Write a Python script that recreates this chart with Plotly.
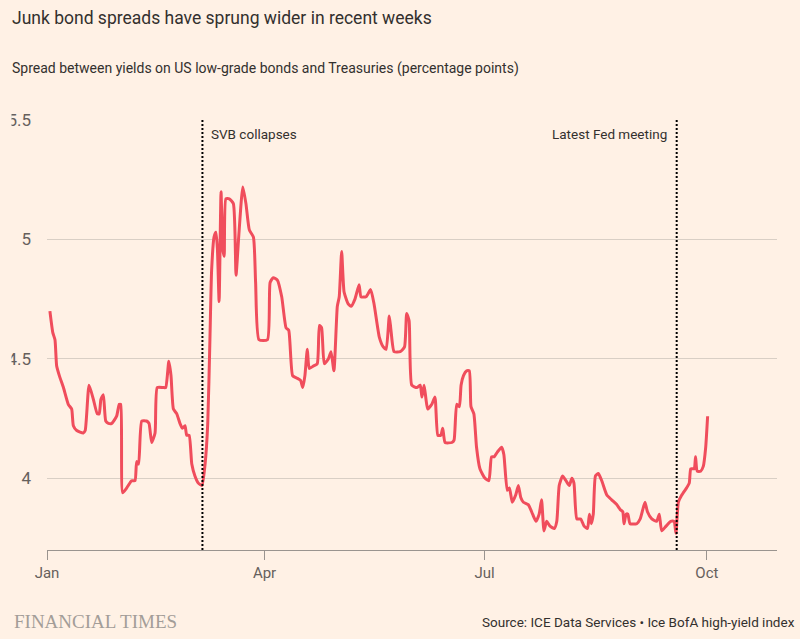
import pandas as pd
import plotly.graph_objects as go

# ---- data ----
days_since_jan1 = [
    1.2, 2.4, 3.3, 4.0, 5.1, 6.8, 8.8, 10.2, 10.9, 12.3, 15.0, 15.8, 17.4, 19.2, 20.8, 21.6,
    22.3, 23.3, 24.3, 25.4, 26.8, 28.8, 29.9, 30.5, 31.3, 33.0, 35.0, 36.4, 37.1, 37.9, 39.2,
    41.2, 42.2, 43.3, 44.7, 45.6, 48.1, 49.1, 50.4, 51.3, 52.3, 53.7, 55.0, 56.0, 57.1, 57.8,
    58.8, 59.9, 61.2, 62.6, 64.1, 65.4, 66.5, 67.4, 68.1, 69.1, 69.9, 70.5, 71.2, 72.0, 72.7,
    73.3, 74.0, 75.4, 77.1, 78.2, 79.3, 81.0, 82.3, 83.7, 85.4, 86.3, 87.7, 91.2, 92.3, 93.6,
    95.3, 97.1, 98.9, 100.0, 101.6, 103.3, 104.9, 105.8, 106.7, 107.7, 108.5, 110.2, 111.8,
    112.7, 113.6, 114.7, 116.4, 117.5, 118.7, 120.1, 120.9, 121.9, 122.9, 124.6, 125.8, 127.4,
    129.1, 129.9, 132.0, 133.9, 135.3, 137.5, 139.1, 140.3, 141.6, 142.3, 143.6, 146.1, 147.9,
    148.8, 149.8, 150.9, 153.0, 154.4, 155.1, 156.0, 156.8, 157.5, 159.2, 160.5, 161.7, 162.9,
    163.7, 164.7, 167.5, 168.4, 169.5, 170.6, 171.3, 172.3, 173.6, 174.7, 175.4, 176.6, 177.7,
    179.1, 181.2, 182.8, 183.9, 185.0, 186.3, 188.1, 189.0, 190.4, 191.3, 192.5, 193.9, 195.0,
    196.0, 197.1, 199.1, 200.9, 202.3, 203.6, 204.6, 205.6, 206.7, 208.1, 209.9, 210.9, 211.9,
    213.3, 214.7, 216.1, 217.1, 218.0, 219.2, 220.8, 222.2, 223.6, 224.4, 225.2, 226.0, 226.9,
    228.1, 229.5, 231.6, 233.6, 235.7, 237.1, 238.2, 238.7, 239.6, 240.3, 241.2, 244.0, 245.4,
    246.5, 247.4, 248.4, 250.2, 252.2, 253.3, 254.3, 256.1, 258.0, 259.4, 260.2, 261.2, 262.6,
    264.6, 265.7, 266.3, 267.1, 267.8, 268.3, 269.0, 270.4, 271.5, 272.5, 273.3,
]
spread_pct_points = [
    4.70, 4.61, 4.58, 4.47, 4.43, 4.38, 4.31, 4.29, 4.22, 4.20, 4.19, 4.20, 4.39, 4.33, 4.27, 4.27,
    4.33, 4.35, 4.24, 4.23, 4.23, 4.26, 4.31, 4.31, 3.94, 3.96, 3.99, 3.99, 4.07, 4.06, 4.24,
    4.24, 4.23, 4.15, 4.19, 4.38, 4.38, 4.38, 4.49, 4.43, 4.29, 4.27, 4.23, 4.21, 4.22, 4.18,
    4.18, 4.06, 4.01, 3.98, 3.97, 4.06, 4.23, 4.58, 4.87, 5.01, 5.03, 4.96, 4.74, 5.20, 4.96,
    4.93, 5.17, 5.17, 5.15, 4.85, 5.01, 5.22, 5.15, 5.04, 5.01, 4.82, 4.58, 4.58, 4.82, 4.84,
    4.83, 4.76, 4.63, 4.62, 4.43, 4.42, 4.41, 4.38, 4.43, 4.54, 4.46, 4.47, 4.48,
    4.64, 4.63, 4.48, 4.50, 4.53, 4.45, 4.72, 4.76, 4.95, 4.78, 4.73, 4.72, 4.75,
    4.81, 4.76, 4.76, 4.79, 4.73, 4.59, 4.55, 4.54, 4.68, 4.62, 4.53, 4.53, 4.55,
    4.69, 4.66, 4.39, 4.38, 4.39, 4.34, 4.39, 4.33, 4.29, 4.31, 4.34, 4.18, 4.18,
    4.21, 4.15, 4.15, 4.16, 4.31, 4.30, 4.39, 4.43, 4.45, 4.45, 4.30, 4.27, 4.13,
    4.04, 4.00, 3.99, 4.09, 4.09, 4.11, 4.13, 4.10, 3.95, 3.96, 3.90, 3.93, 3.97,
    3.92, 3.90, 3.89, 3.85, 3.82, 3.85, 3.91, 3.78, 3.82, 3.80, 3.79, 3.82, 3.97,
    4.01, 3.99, 3.97, 4.00, 3.98, 3.83, 3.83, 3.80, 3.79, 3.85, 3.81, 3.85, 4.01,
    4.02, 3.99, 3.93, 3.91, 3.89, 3.87, 3.86, 3.81, 3.85, 3.85, 3.81, 3.81, 3.83,
    3.87, 3.90, 3.86, 3.83, 3.82, 3.85, 3.78, 3.80, 3.82, 3.82, 3.77, 3.90, 3.93,
    3.96, 3.98, 4.04, 4.04, 4.04, 4.09, 4.03, 4.03, 4.05, 4.13, 4.26,
]
event_labels = ["SVB collapses", "Latest Fed meeting"]
event_days_since_jan1 = [64.3, 260.5]
x_tick_dates = ["2023-01-01", "2023-04-01", "2023-07-01", "2023-10-01"]
x_tick_labels = ["Jan", "Apr", "Jul", "Oct"]
y_tick_values = [4, 4.5, 5, 5.5]
y_tick_labels = ["4", "4.5", "5", "5.5"]

TITLE = "Junk bond spreads have sprung wider in recent weeks"
SUBTITLE = "Spread between yields on US low-grade bonds and Treasuries (percentage points)"
SOURCE = "Source: ICE Data Services \u2022 Ice BofA high-yield index"
BRAND = "FINANCIAL TIMES"

# ---- layout constants ----
W, H = 800, 639
ML, MR, MT, MB = 47, 23, 120, 89
PW, PH = W - ML - MR, H - MT - MB
BG = "#FFF1E5"
TEXT = "#33302E"
MUTED = "#66605C"
GRID = "#D9CFC5"
RED = "#F04D5C"
FONT = "Roboto"


def px_x(px):
    return (px - ML) / PW


def px_y(py):
    return (H - MB - py) / PH


start = pd.Timestamp("2023-01-01")
dates = start + pd.to_timedelta(days_since_jan1, unit="D")
event_dates = start + pd.to_timedelta(event_days_since_jan1, unit="D")

fig = go.Figure()
fig.add_trace(go.Scatter(
    x=dates, y=spread_pct_points, mode="lines",
    line=dict(color=RED, width=3, shape="spline", smoothing=0.5),
    hoverinfo="skip", showlegend=False,
))

shapes = []
annotations = []
for i, (lab, d) in enumerate(zip(event_labels, event_dates)):
    shapes.append(dict(
        type="line", xref="x", yref="paper", x0=d, x1=d, y0=0, y1=1,
        line=dict(color="#000000", width=2, dash="2px,2px"), layer="above",
    ))
    annotations.append(dict(
        x=d, xref="x", y=px_y(134), yref="paper", text=lab, showarrow=False,
        xanchor="left" if i == 0 else "right", yanchor="middle",
        xshift=7 if i == 0 else -8,
        font=dict(family=FONT, size=13.5, color=TEXT),
    ))

# clip band at the very left edge of the page (tick labels are cut off there)
shapes.append(dict(
    type="rect", xref="paper", yref="paper",
    x0=px_x(-5), x1=px_x(11.5), y0=px_y(600), y1=px_y(100),
    fillcolor=BG, line=dict(width=0), layer="above",
))

annotations += [
    dict(x=px_x(10), y=px_y(18), xref="paper", yref="paper", text=TITLE, showarrow=False,
         xanchor="left", yanchor="middle", font=dict(family=FONT, size=17.5, color=TEXT)),
    dict(x=px_x(10), y=px_y(69), xref="paper", yref="paper", text=SUBTITLE, showarrow=False,
         xanchor="left", yanchor="middle", font=dict(family=FONT, size=14, color=TEXT)),
    dict(x=px_x(12), y=px_y(621), xref="paper", yref="paper", text=BRAND, showarrow=False,
         xanchor="left", yanchor="middle",
         font=dict(family="Liberation Serif", size=19, color="#A39D98")),
    dict(x=px_x(797), y=px_y(622), xref="paper", yref="paper", text=SOURCE, showarrow=False,
         xanchor="right", yanchor="middle", font=dict(family=FONT, size=13.5, color=TEXT)),
]

fig.update_layout(
    width=W, height=H, autosize=False,
    margin=dict(l=ML, r=MR, t=MT, b=MB, pad=0, autoexpand=False),
    paper_bgcolor=BG, plot_bgcolor=BG,
    shapes=shapes, annotations=annotations,
    xaxis=dict(
        type="date", range=["2023-01-01", "2023-10-30"], automargin=False,
        tickvals=x_tick_dates, ticktext=x_tick_labels,
        ticks="outside", ticklen=9, tickcolor="#9A948F", tickwidth=1,
        showline=True, linecolor="#9A948F", linewidth=1,
        showgrid=False, zeroline=False,
        tickfont=dict(family=FONT, size=15, color=MUTED),
    ),
    yaxis=dict(
        range=[3.7, 5.5], tickvals=y_tick_values, ticktext=y_tick_labels, automargin=False,
        showgrid=True, gridcolor=GRID, gridwidth=1.2, zeroline=False,
        showline=False, ticks="", ticklabelstandoff=15,
        tickfont=dict(family=FONT, size=17, color=MUTED),
    ),
)

fig.write_html("out.html")
